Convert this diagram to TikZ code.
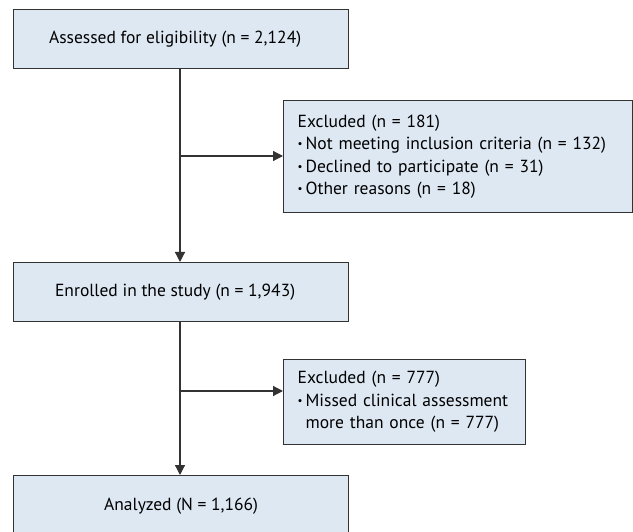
\documentclass[tikz,border=0pt]{standalone}
\usepackage{fontspec}
\setmainfont{PT Sans}
\usetikzlibrary{arrows.meta}
\definecolor{boxfill}{HTML}{DEE8F3}
\definecolor{lineclr}{HTML}{333333}
\newcommand{\bul}{\raisebox{2.2pt}{\fontsize{11}{11}\selectfont\textbullet}\hspace{3pt}}
\newcommand{\bulgap}{\hphantom{\bul}}
\tikzset{
  mainbox/.style={draw=lineclr, line width=1.3pt, fill=boxfill, inner sep=0pt, font=\fontsize{17.5}{22.5}\selectfont},
  exbox/.style={draw=lineclr, line width=1.3pt, fill=boxfill, inner xsep=14pt, inner ysep=0pt, align=left, anchor=north west, font=\fontsize{17.5}{22.5}\selectfont},
  conn/.style={draw=lineclr, line width=1.2pt},
  arr/.style={conn, -{Triangle[length=10pt,width=10pt]}}
}
\begin{document}
\begin{tikzpicture}[x=1pt,y=1pt]
\useasboundingbox (0,0) rectangle (633,-532);
\node[mainbox, minimum width=335pt, minimum height=59pt, anchor=north west] (a) at (13,-9) {Assessed for eligibility (n = 2,124)\hspace*{12pt}};
\node[mainbox, minimum width=349pt, minimum height=112pt, text width=321pt, exbox] (e1) at (283,-100) {Excluded (n = 181)\\
\bul Not meeting inclusion criteria (n = 132)\\
\bul Declined to participate (n = 31)\\
\bul Other reasons (n = 18)};
\node[mainbox, minimum width=335pt, minimum height=59pt, anchor=north west] (b) at (13,-262) {Enrolled in the study (n = 1,943)\hspace*{12pt}};
\node[mainbox, minimum width=242pt, minimum height=85pt, text width=214pt, exbox] (e2) at (283,-359) {Excluded (n = 777)\\
\bul Missed clinical assessment\\
\bulgap more than once (n = 777)};
\node[mainbox, minimum width=335pt, minimum height=62pt, anchor=north west] (c) at (13,-475) {Analyzed (N = 1,166)};
\coordinate (b1) at (180,-156);
\coordinate (b2) at (180,-391);
\draw[arr] (a.south -| b1) -- (b.north -| b1);
\draw[arr] (b1) -- (b1 -| e1.west);
\draw[arr] (b.south -| b2) -- (c.north -| b2);
\draw[arr] (b2) -- (b2 -| e2.west);
\end{tikzpicture}
\end{document}
